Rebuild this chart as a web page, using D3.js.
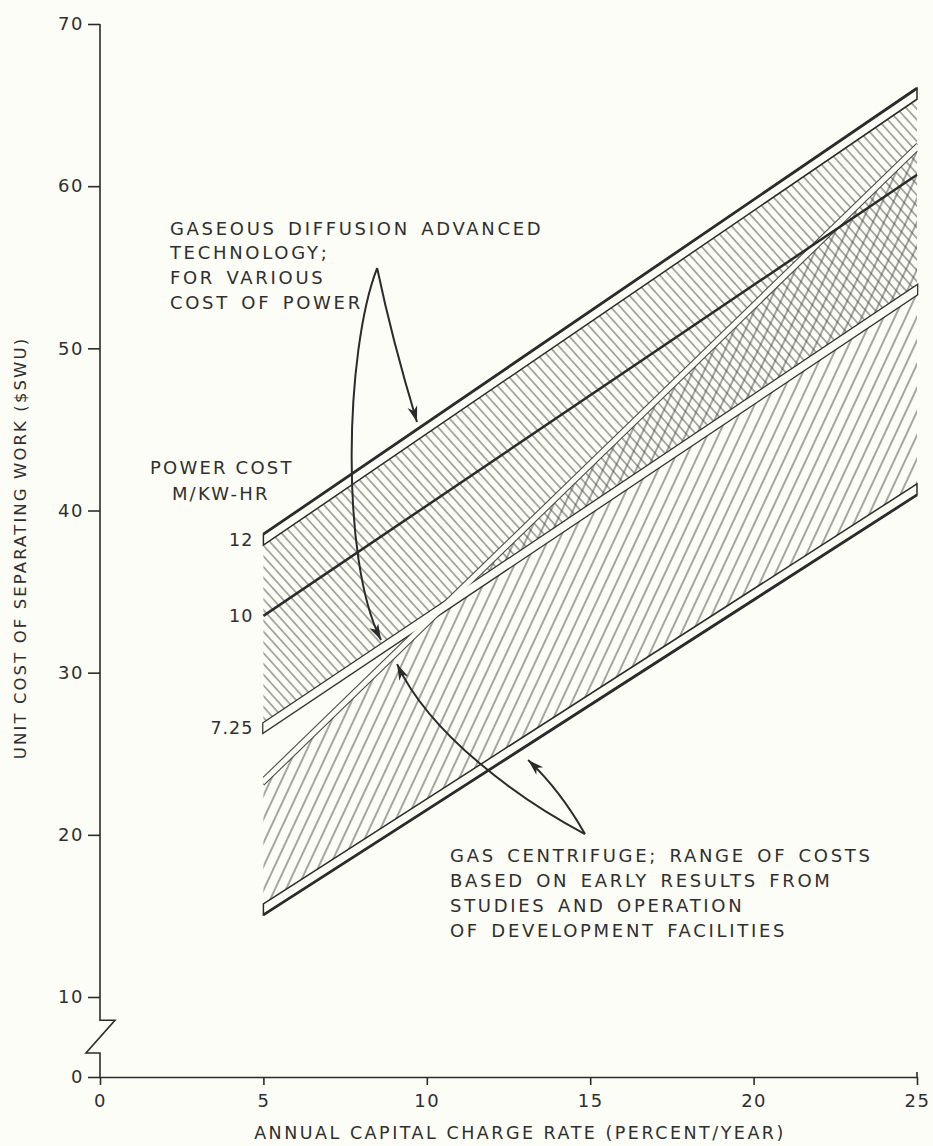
<!DOCTYPE html>
<html>
<head>
<meta charset="utf-8">
<script src="https://cdn.jsdelivr.net/npm/d3@7"></script>
<style>
  body { margin: 0; background: #fdfdf8; }
  svg text { font-family: "DejaVu Sans", sans-serif; fill: #2f2f2f; }
</style>
</head>
<body>
<div id="chart"></div>
<script>
// values (x = charge rate %/yr, y = $ per SWU)
const xTicks = [0, 5, 10, 15, 20, 25]
const yTicks = [0, 10, 20, 30, 40, 50, 60, 70]
const rateRange = [5, 25]
const powerCosts = ["12", "10", "7.25"]
const diffusionAt5 = [38.2, 33.5, 26.6]
const diffusionAt25 = [65.7, 60.7, 53.6]
const centrifugeTop = [23.3, 62.4]
const centrifugeBottom = [15.4, 41.3]
const diffusionNote = ["GASEOUS DIFFUSION ADVANCED", "TECHNOLOGY;", "FOR VARIOUS", "COST OF POWER"]
const centrifugeNote = ["GAS CENTRIFUGE; RANGE OF COSTS", "BASED ON EARLY RESULTS FROM", "STUDIES AND OPERATION", "OF DEVELOPMENT FACILITIES"]
const powerHeader = ["POWER COST", "M/KW-HR"]
const xLabel = "ANNUAL CAPITAL CHARGE RATE (PERCENT/YEAR)"
const yLabel = "UNIT COST OF SEPARATING WORK ($SWU)"

// annotation arrows, in data units: apex, then control points and tip of each branch
const diffArrow = { apex: [8.48, 54.95], right: [[8.94, 50.51], [9.70, 45.46]], left: [[7.50, 49.9], [7.34, 36.95], [8.60, 32.01]] }
const centArrow = { apex: [14.84, 20.05], up: [[14.08, 22.76], [13.10, 24.61]], left: [[12.85, 22.15], [10.10, 26.16], [9.09, 30.53]] }

const ink = "#2b2b2b"
const paper = "#fdfdf8"
const width = 933, height = 1146

let x = d3.scaleLinear().domain([0, 25]).range([100, 917])
// broken axis: 0..10 squeezed
let y = d3.scaleLinear().domain([0, 10, 70]).range([1077, 997, 24])

let svg = d3.select("#chart").append("svg")
    .attr("width", width)
    .attr("height", height)

svg.append("rect").attr("width", width).attr("height", height).attr("fill", paper)

let defs = svg.append("defs")
let hatch = function(id, angle, gap) {
    let p = defs.append("pattern")
        .attr("id", id)
        .attr("patternUnits", "userSpaceOnUse")
        .attr("width", 40).attr("height", gap)
        .attr("patternTransform", `rotate(${angle})`)
    p.append("line")
        .attr("x1", 0).attr("x2", 40)
        .attr("y1", gap / 2).attr("y2", gap / 2)
        .attr("stroke", "#4d4d4d").attr("stroke-width", 1.1)
}
hatch("gdHatch", 48, 7.2)
hatch("gcHatch", -65, 10)

let band = function(top, bottom) {
    return [
        [x(rateRange[0]), y(top[0])], [x(rateRange[1]), y(top[1])],
        [x(rateRange[1]), y(bottom[1])], [x(rateRange[0]), y(bottom[0])]
    ]
}
let ribbon = function(v0, v1, h) {
    return [
        [x(rateRange[0]), y(v0) - h], [x(rateRange[1]), y(v1) - h],
        [x(rateRange[1]), y(v1) + h], [x(rateRange[0]), y(v0) + h]
    ]
}
let poly = pts => "M" + pts.join("L") + "Z"

let gd12 = [diffusionAt5[0], diffusionAt25[0]]
let gd10 = [diffusionAt5[1], diffusionAt25[1]]
let gd725 = [diffusionAt5[2], diffusionAt25[2]]

// hatched areas
svg.append("path").attr("d", poly(band(gd12, gd725))).attr("fill", "url(#gdHatch)")
svg.append("path").attr("d", poly(band(centrifugeTop, centrifugeBottom))).attr("fill", "url(#gcHatch)")

// the two light strips (7.25 edge and centrifuge upper edge) merge where they cross
let r725 = ribbon(gd725[0], gd725[1], 4.5)
let rTop = ribbon(centrifugeTop[0], centrifugeTop[1], 3.5)
let strips = svg.append("g")
strips.append("path").attr("d", poly(r725)).attr("fill", "none").attr("stroke", "#333").attr("stroke-width", 2.6)
strips.append("path").attr("d", d3.line()([rTop[0], rTop[1]])).attr("fill", "none").attr("stroke", "#4a4a4a").attr("stroke-width", 2.2)
strips.append("path").attr("d", d3.line()([rTop[3], rTop[2]])).attr("fill", "none").attr("stroke", "#4a4a4a").attr("stroke-width", 2.2)
strips.append("path").attr("d", poly(r725)).attr("fill", paper)
strips.append("path").attr("d", poly(rTop)).attr("fill", paper)

// heavy outer ribbons
let heavy = function(v, edge) {
    let r = ribbon(v[0], v[1], 5.5)
    svg.append("path").attr("d", poly(r)).attr("fill", paper).attr("stroke", ink).attr("stroke-width", 1.5)
    let e = edge == "top" ? [r[0], r[1]] : [r[3], r[2]]
    svg.append("path").attr("d", d3.line()(e)).attr("stroke", ink).attr("stroke-width", 2.8)
}
heavy(gd12, "top")
heavy(centrifugeBottom, "bottom")

// 10 mill line
svg.append("path")
    .attr("d", d3.line()([[x(rateRange[0]), y(gd10[0])], [x(rateRange[1]), y(gd10[1])]]))
    .attr("stroke", ink).attr("stroke-width", 2.5)

// axes
let yAxis = svg.append("g")
    .attr("transform", `translate(${x(0)},0)`)
    .call(d3.axisLeft(y).tickValues(yTicks).tickSize(12).tickPadding(4).tickSizeOuter(0))
yAxis.select(".domain").remove()
yAxis.selectAll("line").attr("stroke", ink).attr("stroke-width", 1.6)
yAxis.selectAll("text").attr("font-size", 18).attr("fill", "#2f2f2f").attr("letter-spacing", 1.5)

let brk = [7.1, 3.0]
svg.append("path")
    .attr("d", d3.line()([
        [x(0), y(70)], [x(0), y(brk[0])], [x(0) + 15, y(brk[0])],
        [x(0) - 14, y(brk[1])], [x(0), y(brk[1])], [x(0), y(0)]
    ]))
    .attr("fill", "none").attr("stroke", ink).attr("stroke-width", 1.6)

let xAxis = svg.append("g")
    .attr("transform", `translate(0,${y(0)})`)
    .call(d3.axisBottom(x).tickValues(xTicks).tickSize(8).tickPadding(9).tickSizeOuter(0))
xAxis.select(".domain").attr("stroke", ink).attr("stroke-width", 1.6)
xAxis.selectAll("line").attr("stroke", ink).attr("stroke-width", 1.6)
xAxis.selectAll("text").attr("font-size", 18).attr("fill", "#2f2f2f").attr("letter-spacing", 1.5)
xAxis.append("line").attr("x1", x(25)).attr("x2", x(25)).attr("y1", -5).attr("y2", 0)
    .attr("stroke", ink).attr("stroke-width", 1.6)

svg.append("text")
    .attr("x", 520).attr("y", 1139)
    .attr("text-anchor", "middle")
    .attr("font-size", 17.5).attr("letter-spacing", 2.5)
    .text(xLabel)

svg.append("text")
    .attr("transform", `translate(26,${548}) rotate(-90)`)
    .attr("text-anchor", "middle")
    .attr("font-size", 16.5).attr("letter-spacing", 2.1)
    .text(yLabel)

// arrows
let P = d => [x(d[0]), y(d[1])]
let arrowHead = function(tip, from) {
    let a = Math.atan2(tip[1] - from[1], tip[0] - from[0])
    let L = 16, w = 5
    let c = Math.cos(a), s = Math.sin(a)
    let bx = tip[0] - L * c, by = tip[1] - L * s
    let mx = tip[0] - L * 0.72 * c, my = tip[1] - L * 0.72 * s
    svg.append("path")
        .attr("d", `M${tip[0]},${tip[1]}L${bx - s * w},${by + c * w}L${mx},${my}L${bx + s * w},${by - c * w}Z`)
        .attr("fill", ink)
}
let drawArrow = function(apex, pts) {
    let p = d3.path()
    let a = P(apex)
    p.moveTo(a[0], a[1])
    let q = pts.map(P)
    if (q.length == 2) p.quadraticCurveTo(q[0][0], q[0][1], q[1][0], q[1][1])
    else p.bezierCurveTo(q[0][0], q[0][1], q[1][0], q[1][1], q[2][0], q[2][1])
    svg.append("path").attr("d", p.toString()).attr("fill", "none")
        .attr("stroke", ink).attr("stroke-width", 2)
    arrowHead(q[q.length - 1], q[q.length - 2])
}
drawArrow(diffArrow.apex, diffArrow.right)
drawArrow(diffArrow.apex, diffArrow.left)
drawArrow(centArrow.apex, centArrow.up)
drawArrow(centArrow.apex, centArrow.left)

// power cost labels at the left end of each diffusion line
powerCosts.forEach((lab, i) => {
    svg.append("text")
        .attr("x", x(rateRange[0]) - 10)
        .attr("y", y(diffusionAt5[i]))
        .attr("dy", "0.36em")
        .attr("text-anchor", "end")
        .attr("font-size", 17.5).attr("letter-spacing", 1)
        .text(lab)
})

let note = function(lines, x0, y0, lh) {
    let t = svg.append("text")
        .attr("font-size", 18).attr("letter-spacing", 2.7).attr("word-spacing", 3)
    lines.forEach((l, i) => {
        t.append("tspan").attr("x", x(x0)).attr("y", y(y0) + i * lh).text(l)
    })
}
note(diffusionNote, 2.14, 57.0, 24.6)
note(centrifugeNote, 10.71, 18.32, 25)

let hdr = svg.append("text").attr("font-size", 18).attr("letter-spacing", 2.2)
hdr.append("tspan").attr("x", x(1.53)).attr("y", y(42.25)).text(powerHeader[0])
hdr.append("tspan").attr("x", x(2.2)).attr("y", y(40.65)).text(powerHeader[1])
</script>
</body>
</html>
